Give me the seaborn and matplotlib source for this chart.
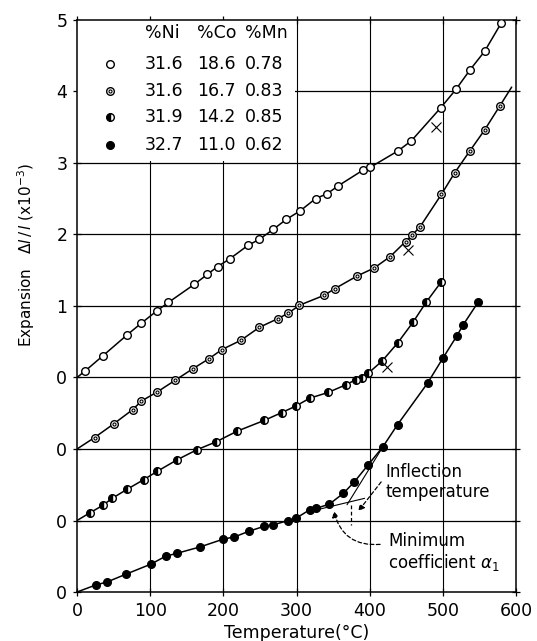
import matplotlib
matplotlib.use("Agg")
import matplotlib.pyplot as plt
import matplotlib.patches as mpatches
import pandas as pd
import seaborn as sns

# --- data (each curve in its own shifted frame) ---
temp_a = [11, 35, 69, 88, 109, 125, 160, 178, 192, 209, 234, 249, 268, 286, 305,
          326, 342, 357, 391, 401, 439, 457, 497, 518, 537, 557, 580]
exp_a = [0.09, 0.30, 0.60, 0.76, 0.93, 1.05, 1.30, 1.44, 1.55, 1.66, 1.85, 1.93, 2.07, 2.21, 2.33,
         2.50, 2.57, 2.68, 2.90, 2.94, 3.17, 3.31, 3.77, 4.03, 4.30, 4.56, 4.96]

temp_b = [24, 50, 76, 88, 110, 134, 158, 180, 198, 224, 249, 274, 289, 304, 338,
          352, 383, 406, 428, 449, 458, 469, 498, 516, 537, 557, 578]
exp_b = [0.16, 0.35, 0.55, 0.67, 0.80, 0.96, 1.12, 1.26, 1.39, 1.52, 1.70, 1.82, 1.90, 2.01, 2.15,
         2.24, 2.42, 2.53, 2.69, 2.90, 2.99, 3.11, 3.56, 3.86, 4.17, 4.46, 4.80]

temp_c = [18, 35, 48, 69, 91, 110, 137, 164, 190, 219, 256, 280, 299, 318, 343,
          368, 381, 389, 398, 417, 438, 459, 477, 498]
exp_c = [0.11, 0.21, 0.31, 0.44, 0.57, 0.69, 0.85, 0.99, 1.10, 1.25, 1.40, 1.51, 1.60, 1.71, 1.79,
         1.90, 1.97, 1.99, 2.06, 2.23, 2.48, 2.77, 3.05, 3.34]

temp_d = [26, 41, 67, 101, 121, 136, 168, 200, 215, 235, 256, 268, 289, 299, 318,
          327, 345, 364, 379, 398, 418, 438, 479, 500, 519, 528, 548]
exp_d = [0.10, 0.14, 0.25, 0.39, 0.50, 0.54, 0.63, 0.74, 0.77, 0.85, 0.92, 0.94, 1.00, 1.03, 1.15,
         1.17, 1.23, 1.38, 1.54, 1.78, 2.03, 2.34, 2.92, 3.27, 3.58, 3.74, 4.05]

# curve end beyond last point (sample b runs into the corner)
end_b = (594, 5.06)

offsets = [3, 2, 1, 0]
ni = ["31.6", "31.6", "31.9", "32.7"]
co = ["18.6", "16.7", "14.2", "11.0"]
mn = ["0.78", "0.83", "0.85", "0.62"]

# inflection marks (temperature, expansion in own frame)
infl_t = [490, 453, 424]
infl_e = [3.50, 2.78, 2.14]

# tangent construction on sample d
tan_steep_t = [369, 418]
tan_steep_e = [1.22, 2.03]
tan_low_t = [332, 393]
tan_low_e = [1.16, 1.31]

yticks = [0, 1, 2, 3, 4, 5, 6, 7, 8]
ylabels = ["0", "0", "0", "0", "1", "2", "3", "4", "5"]

sns.set_theme(style="ticks")
plt.rcParams["font.family"] = ["DejaVu Sans"]
plt.rcParams["mathtext.fontset"] = "dejavusans"
for key in ["text.color", "axes.labelcolor", "xtick.color", "ytick.color", "axes.edgecolor"]:
    plt.rcParams[key] = "black"

fig, ax = plt.subplots(figsize=(5.37, 6.41), dpi=100)
fig.subplots_adjust(left=0.1434, right=0.961, top=0.969, bottom=0.0764)

series = [(temp_a, exp_a), (temp_b, exp_b), (temp_c, exp_c), (temp_d, exp_d)]
styles = [
    dict(marker="o", mfc="white", mec="black"),
    dict(marker="o", mfc="white", mec="black"),
    dict(marker="o", mfc="black", mec="black", fillstyle="left", markerfacecoloralt="white"),
    dict(marker="o", mfc="black", mec="black"),
]
msize = 5.5

for k, ((t, e), off) in enumerate(zip(series, offsets)):
    lt = [0] + list(t)
    le = [0] + list(e)
    if k == 1:
        lt.append(end_b[0])
        le.append(end_b[1])
    df_line = pd.DataFrame({"T": lt, "E": [v + off for v in le]})
    sns.lineplot(data=df_line, x="T", y="E", color="black", lw=1.1, ax=ax,
                 sort=False, estimator=None, zorder=3)
    df_pts = pd.DataFrame({"T": t, "E": [v + off for v in e]})
    sns.lineplot(data=df_pts, x="T", y="E", lw=0, ms=msize, mew=1.0, ax=ax,
                 sort=False, estimator=None, zorder=4, **styles[k])
    if k == 1:
        sns.lineplot(data=df_pts, x="T", y="E", lw=0, marker="o", ms=2.2, mfc="white",
                     mec="black", mew=0.8, ax=ax, sort=False, estimator=None, zorder=5)

# inflection marks
ax.plot(infl_t, [e + o for e, o in zip(infl_e, offsets[:3])], ls="none", marker="x",
        ms=6.5, mew=0.8, color="black", zorder=5)

# tangent lines and annotations on the lowest curve
ax.plot(tan_steep_t, tan_steep_e, color="black", lw=0.8, zorder=3)
ax.plot(tan_low_t, tan_low_e, color="black", lw=0.8, zorder=3)
ax.plot([375, 375], [1.21, 0.94], color="black", lw=0.9, ls=(0, (3, 2)), zorder=3)

ax.annotate("", xy=(382, 1.10), xytext=(418, 1.57),
            arrowprops=dict(arrowstyle="-|>", color="black", lw=0.9, ls=(0, (3, 2)),
                            mutation_scale=9))
ax.annotate("", xy=(350, 1.17), xytext=(418, 0.67),
            arrowprops=dict(arrowstyle="-|>", color="black", lw=0.9, ls=(0, (3, 2)),
                            mutation_scale=9, connectionstyle="arc3,rad=-0.45"))
ax.text(421, 1.54, "Inflection\ntemperature", fontsize=12, va="center", ha="left",
        linespacing=1.1)
ax.text(425, 0.55, "Minimum\ncoefficient $\\alpha_1$", fontsize=12, va="center", ha="left",
        linespacing=1.1)

# composition table in the top-left corner
ax.add_patch(mpatches.Rectangle((0, 6.03), 298, 1.97, facecolor="white", edgecolor="none",
                                zorder=2))
col_x = [93, 164, 229]
row_y = [7.38, 7.01, 6.64, 6.25]
for x, head in zip(col_x, ["%Ni", "%Co", "%Mn"]):
    ax.text(x, 7.82, head, fontsize=12.5, va="center", ha="left", zorder=6)
for k, y in enumerate(row_y):
    ax.plot([45], [y], ls="none", ms=msize, mew=1.0, zorder=6, **styles[k])
    if k == 1:
        ax.plot([45], [y], ls="none", marker="o", ms=2.2, mfc="white", mec="black",
                mew=0.8, zorder=7)
    for x, vals in zip(col_x, [ni, co, mn]):
        ax.text(x, y, vals[k], fontsize=12.5, va="center", ha="left", zorder=6)

# axes, grid and labels
ax.set_xlim(0, 600)
ax.set_ylim(0, 8)
ax.set_xticks(range(0, 601, 100))
ax.set_yticks(yticks)
ax.set_yticklabels(ylabels)
for v in range(100, 600, 100):
    ax.axvline(v, color="black", lw=0.8, zorder=1)
for v in range(1, 8):
    ax.axhline(v, color="black", lw=0.9, zorder=1)
ax.tick_params(direction="inout", length=6, width=0.9, top=True, right=True,
               labelsize=12.5, pad=4)
for s in ax.spines.values():
    s.set_linewidth(1.1)
    s.set_color("black")
ax.set_xlabel("Temperature(°C)", fontsize=12.5, labelpad=3)
ax.set_ylabel("Expansion   $\\Delta l\\,/\\,l$ (x10$^{-3}$)", fontsize=11)
ax.yaxis.set_label_coords(-0.09, 0.59)

fig.savefig("out.png", dpi=100)
